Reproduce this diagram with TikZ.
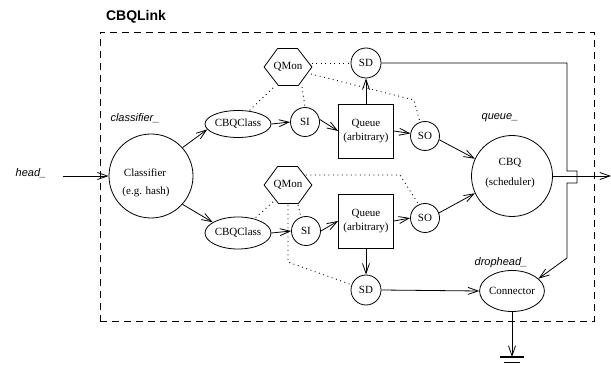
\documentclass[tikz,border=0pt]{standalone}
\usepackage{fontspec}
\setmainfont{Liberation Serif}
\setsansfont{Liberation Sans}
\usetikzlibrary{arrows.meta,shapes.geometric,calc}
\begin{document}
\begin{tikzpicture}[x=1pt,y=-1pt,line width=0.8pt,
  >={Straight Barb[length=10pt,width=7pt]},
  lbl/.style={font=\fontsize{11}{14}\selectfont},
  tag/.style={font=\sffamily\itshape\fontsize{11}{13}\selectfont},
  circ/.style={draw,circle,inner sep=0pt,lbl},
  ell/.style={draw,ellipse,inner sep=0pt,lbl},
  hexbox/.style={inner sep=0pt,minimum width=47pt,minimum height=37pt,lbl},
  dot/.style={dash pattern=on 0.9pt off 3.6pt,line width=0.9pt},
  frame/.style={draw,dash pattern=on 7pt off 5pt,inner sep=0pt}]
\useasboundingbox (0,0) rectangle (611,366);

% frame and titles
\node[frame,minimum width=494pt,minimum height=289pt] (fr) at (347,176.5) {};
\node[font=\sffamily\bfseries\fontsize{14}{16}\selectfont] (title) at (136,17) {CBQLink};
\node[tag] (lcls) at (135,118) {classifier\_};
\node[tag] (lhead) at (31,173) {head\_};
\node[tag] (lq) at (500,118) {queue\_};
\node[tag] (ldrop) at (501,263) {drophead\_};

% nodes
\node[circ,minimum size=84pt] (cls) at (151,176) {};
\node[lbl] (clst1) at (145,173) {Classifier};
\node[lbl] (clst2) at (146,192) {(e.g. hash)};
\node[ell,minimum width=66pt,minimum height=27pt] (cc1) at (238,124) {CBQClass};
\node[ell,minimum width=66pt,minimum height=32pt] (cc2) at (238,233) {CBQClass};
\node[circ,minimum size=29pt] (si1) at (305,122) {SI};
\node[circ,minimum size=29pt] (si2) at (306,231) {SI};
\node[draw,minimum width=55pt,minimum height=54pt,align=center,lbl] (q1) at (366,131) {Queue\\(arbitrary)};
\node[draw,minimum width=55pt,minimum height=54pt,align=center,lbl] (q2) at (366,221) {Queue\\(arbitrary)};
\node[circ,minimum size=30pt] (sd1) at (366,63) {SD};
\node[circ,minimum size=30pt] (sd2) at (366,290) {SD};
\node[circ,minimum size=29pt] (so1) at (425,136) {SO};
\node[circ,minimum size=29pt] (so2) at (425,218) {SO};
\node[circ,minimum size=81pt] (cbq) at (512,176) {};
\node[lbl] (cbqt1) at (510,163) {CBQ};
\node[lbl] (cbqt2) at (510,183) {(scheduler)};
\node[ell,minimum width=64pt,minimum height=41pt] (conn) at (512,291) {Connector};

% hexagons
\node[hexbox] (qm1) at (288,67) {QMon};
\node[hexbox] (qm2) at (288,185) {QMon};
\foreach \h in {qm1,qm2}
  \draw (\h.west) -- ++(13.5,-18.5) -- ++(20,0) -- (\h.east) -- ++(-13.5,18.5) -- ++(-20,0) -- cycle;

% coordinates
\coordinate (hin) at (63,176);
\coordinate (out) at (611,176);
\coordinate (b1) at (567,63);
\coordinate (b2) at (567,171);
\coordinate (b3) at (577,171);
\coordinate (b4) at (577,183);
\coordinate (b5) at (567,183);
\coordinate (b6) at (567,258);
\coordinate (gnd) at (512,357);
\coordinate (d1) at (414,100);
\coordinate (d2) at (400,175);
\coordinate (d3) at (288,262);

% solid connectors
\draw[->] (hin) -- (cls.west);
\draw[->] (cls.42) -- (cc1.190);
\draw[->] (cls.-42) -- (cc2.157);
\draw[->] (cc1.east) -- (si1.west);
\draw[->] (cc2.east) -- (si2.west);
\draw[->] (si1.10) -- (q1.west);
\draw[->] (si2.east) -- (q2.west);
\draw[->] (q1.east) -- (so1.170);
\draw[->] (q2.east) -- (so2.west);
\draw[->] (so1.-15) -- (cbq.155);
\draw[->] (so2.20) -- (cbq.205);
\draw[->] (q1.north) -- (sd1.south);
\draw[->] (q2.south) -- (sd2.north);
\draw[->] (sd2.east) -- (conn.west);
\draw[->] (sd1.east) -- (b1) -- (b2) -- (b3) -- (b4) -- (b5) -- (b6) -- (conn.25);
\draw[->] (cbq.east) -- (out);
\draw[->] (conn.south) -- (gnd);
\draw[line width=1.4pt] ($(gnd)+(-12,0)$) -- ($(gnd)+(12,0)$);
\draw ($(gnd)+(-8,5)$) -- ($(gnd)+(8,5)$);

% dotted monitor links
\draw[dot] ($(qm1.east)+(0,-4)$) -- (sd1.west);
\draw[dot] ($(qm1.east)+(-1,7)$) -- (d1) -- (so1.110);
\draw[dot] ($(qm1.south)+(-15,2)$) -- (cc1.50);
\draw[dot] ($(qm1.south)+(14,1)$) -- (si1.north);
\draw[dot] ($(qm2.east)+(-6,-10)$) -- (d2) -- (so2.115);
\draw[dot] ($(qm2.south)+(-15,-2)$) -- (cc2.41);
\draw[dot] ($(qm2.south)+(10,1)$) -- (si2.110);
\draw[dot] ($(qm2.south)+(0,1)$) -- (d3) -- (sd2.160);
\end{tikzpicture}
\end{document}
